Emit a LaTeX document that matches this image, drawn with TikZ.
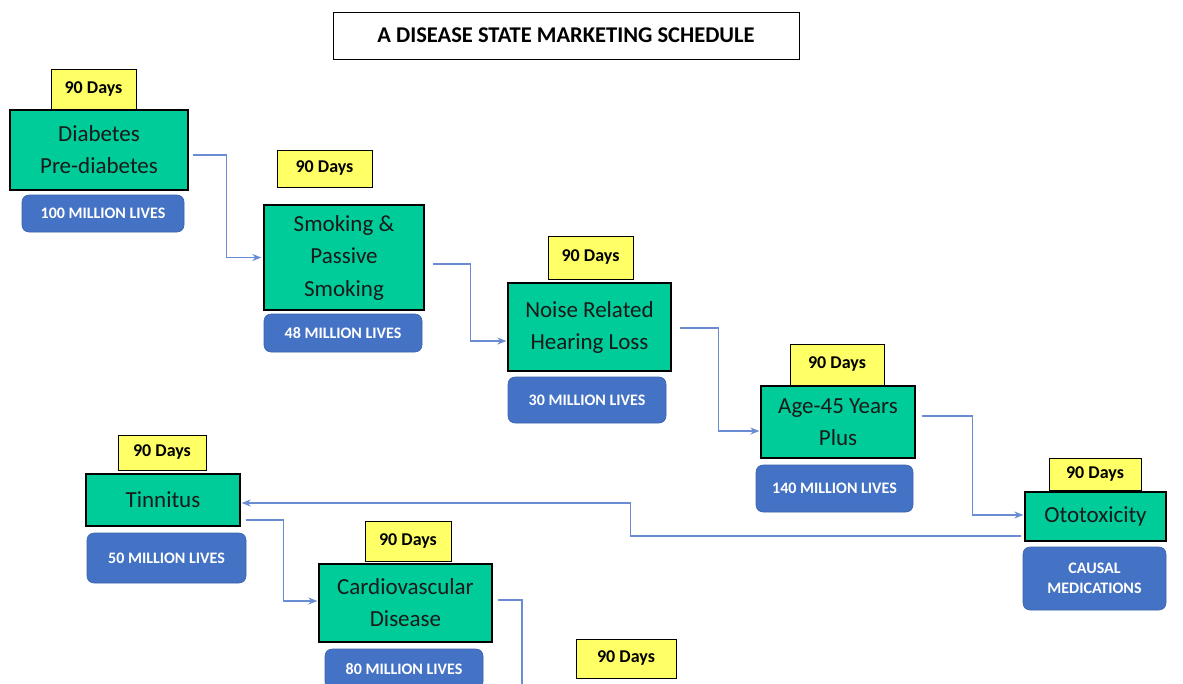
\documentclass[tikz,border=0pt]{standalone}
\usepackage{fontspec}
\setmainfont{Carlito}
\usetikzlibrary{arrows.meta,calc}
\definecolor{gbox}{RGB}{0,204,153}
\definecolor{ybox}{RGB}{255,255,102}
\definecolor{bbox}{RGB}{68,114,196}
\definecolor{bline}{RGB}{58,98,172}
\definecolor{conncol}{RGB}{105,140,210}
\begin{document}
\begin{tikzpicture}[x=1pt,y=-1pt,
  greenbox/.style={draw=black,line width=1.4pt,fill=gbox,inner sep=0pt,align=center,
     font=\fontsize{23}{32}\selectfont,text=black!90},
  daysbox/.style={draw=black,line width=1pt,fill=ybox,inner sep=0pt,align=center,
     font=\fontsize{18}{20}\selectfont\bfseries},
  livesbox/.style={draw=bline,line width=0.6pt,fill=bbox,rounded corners=7pt,inner sep=0pt,align=center,
     text=white,font=\fontsize{16}{20}\selectfont\bfseries},
  titlebox/.style={draw=black,line width=1pt,inner sep=0pt,font=\fontsize{22.5}{24}\selectfont\bfseries},
  conn/.style={draw=conncol,line width=1.1pt},
  arr/.style={conn,-{Stealth[length=9pt,width=7pt]}}]
\useasboundingbox (0,0) rectangle (1183,683);
\clip (0,0) rectangle (1183,683);

\node[titlebox,minimum width=466pt,minimum height=47pt] (title) at (566,35.5) {A DISEASE STATE MARKETING SCHEDULE};

% 1
\node[daysbox,minimum width=85pt,minimum height=41pt] (Y1) at (93.5,89.5) {90 Days};
\node[greenbox,minimum width=178pt,minimum height=80pt] (G1) at (99,150) {Diabetes\\Pre-diabetes};
\node[livesbox,minimum width=162pt,minimum height=37pt] (B1) at (103,213.5) {100 MILLION LIVES};
% 2
\node[daysbox,minimum width=95pt,minimum height=37pt] (Y2) at (324.5,168.5) {90 Days};
\node[greenbox,minimum width=160pt,minimum height=105pt,font=\fontsize{23}{32.5}\selectfont] (G2) at (344,257.5) {Smoking \&\\Passive\\Smoking};
\node[livesbox,minimum width=158pt,minimum height=38pt] (B2) at (343,333) {48 MILLION LIVES};
% 3
\node[daysbox,minimum width=85pt,minimum height=43pt] (Y3) at (590.5,257.5) {90 Days};
\node[greenbox,minimum width=163pt,minimum height=88pt] (G3) at (589.5,327) {Noise Related\\Hearing Loss};
\node[livesbox,minimum width=158pt,minimum height=46pt] (B3) at (587,400) {30 MILLION LIVES};
% 4
\node[daysbox,minimum width=94pt,minimum height=41pt] (Y4) at (837,364.5) {90 Days};
\node[greenbox,minimum width=154pt,minimum height=72pt] (G4) at (838,422) {Age-45 Years\\Plus};
\node[livesbox,minimum width=157pt,minimum height=47pt] (B4) at (834.5,488.5) {140 MILLION LIVES};
% 5
\node[daysbox,minimum width=92pt,minimum height=32pt] (Y5) at (1095,474) {90 Days};
\node[greenbox,minimum width=141pt,minimum height=49pt] (G5) at (1095.5,516.5) {Ototoxicity};
\node[livesbox,minimum width=143pt,minimum height=63pt] (B5) at (1094.5,578.5) {CAUSAL\\MEDICATIONS};
% 6
\node[daysbox,minimum width=88pt,minimum height=35pt] (Y6) at (162,452.5) {90 Days};
\node[greenbox,minimum width=154pt,minimum height=52pt] (G6) at (163,500) {Tinnitus};
\node[livesbox,minimum width=159pt,minimum height=50pt] (B6) at (166.5,558) {50 MILLION LIVES};
% 7
\node[daysbox,minimum width=86pt,minimum height=40pt] (Y7) at (408,541) {90 Days};
\node[greenbox,minimum width=173pt,minimum height=78pt] (G7) at (405.5,603) {Cardiovascular\\Disease};
\node[livesbox,minimum width=158pt,minimum height=40pt] (B7) at (404,669) {80 MILLION LIVES};
% 8
\node[daysbox,minimum width=100pt,minimum height=39pt] (Y8) at (626,658.5) {90 Days};

% connectors
\draw[arr] ([shift={(4,5)}]G1.east) -- ++(34,0) |- ([xshift=-2pt]G2.west);
\draw[arr] ([shift={(8,6.5)}]G2.east) -- ++(38,0) |- ([shift={(-1,14)}]G3.west);
\draw[arr] ([shift={(8,1)}]G3.east) -- ++(39,0) |- ([shift={(-1,9)}]G4.west);
\draw[arr] ([shift={(6,-6)}]G4.east) -- ++(51,0) |- ([shift={(-1,-1.5)}]G5.west);
\draw[arr] ([shift={(-3,19.5)}]G5.west) -- ++(-391,0) |- ([shift={(1,3)}]G6.east);
\draw[arr] ([shift={(5,20)}]G6.east) -- ++(38,0) |- ([shift={(-1,-2)}]G7.west);
\coordinate (end7) at (522,690);
\draw[conn] ([shift={(5,-3)}]G7.east) -| (end7);
\end{tikzpicture}
\end{document}
